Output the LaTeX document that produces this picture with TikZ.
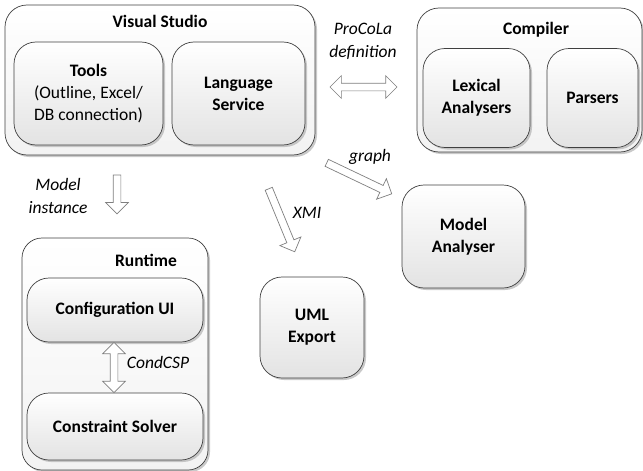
\documentclass[tikz,border=0pt]{standalone}
\usepackage{fontspec}
\setmainfont{Carlito}
\usetikzlibrary{shapes.arrows,shadows,calc}
\definecolor{edge}{HTML}{404040}
\definecolor{arr}{HTML}{7F7F7F}
\tikzset{
  box/.style={draw=edge, line width=0.7pt, rounded corners=22pt, top color=white, bottom color=black!11,
    drop shadow={shadow xshift=2pt, shadow yshift=-2pt, fill=black!30, opacity=0.7},
    align=center, font=\fontsize{17.5}{22}\selectfont\bfseries, inner sep=0pt},
  outer/.style={box, top color=white, bottom color=black!5},
  title/.style={font=\fontsize{17.5}{20}\selectfont\bfseries, inner sep=0pt},
  lbl/.style={font=\fontsize{17.5}{23}\selectfont\itshape, align=center, inner sep=0pt},
  fat/.style={single arrow, draw=arr, fill=white, line width=0.7pt, inner sep=3.5pt,
    single arrow head extend=7.5pt, single arrow tip angle=90},
  fatdouble/.style={double arrow, draw=arr, fill=white, line width=0.7pt, inner sep=3.5pt,
    double arrow head extend=7.5pt, double arrow tip angle=90},
}
\newcommand\fatarrow[3]{%
  \path let \p1=($(#3)-(#2)$), \n1={atan2(\y1,\x1)}, \n2={veclen(\x1,\y1)} in
    node[#1, minimum height=\n2, rotate=\n1] at ($(#2)!0.5!(#3)$) {};}
\begin{document}
\begin{tikzpicture}[x=1pt,y=-1pt]
\useasboundingbox (0,0) rectangle (643,471);
% Visual Studio
\node[outer, minimum width=310pt, minimum height=150pt] (vs) at (160,80) {};
\node[title] (vst) at (160,21) {Visual Studio};
\node[box, minimum width=149pt, minimum height=103pt] (tools) at (88.5,93.5)
  {Tools\\\mdseries (Outline, Excel/\\\mdseries DB connection)};
\node[box, minimum width=133pt, minimum height=103pt] (ls) at (238.5,93.5) {Language\\Service};
% Compiler
\node[outer, minimum width=225pt, minimum height=144pt] (comp) at (529.5,80) {};
\node[title] (compt) at (536,30) {Compiler};
\node[box, minimum width=107pt, minimum height=99pt] (lex) at (476.5,98) {Lexical\\Analysers};
\node[box, minimum width=91pt, minimum height=99pt] (pars) at (592.5,98) {Parsers};
% Runtime
\node[outer, minimum width=186pt, minimum height=232pt, rounded corners=20pt] (rt) at (115,354) {};
\node[title] (rtt) at (146,260) {Runtime};
\node[box, minimum width=176pt, minimum height=64pt] (cui) at (115,310) {Configuration UI};
\node[box, minimum width=176pt, minimum height=67pt] (cs) at (115,426.5) {Constraint Solver};
% standalone
\node[box, minimum width=123pt, minimum height=103pt] (ma) at (463.5,236.5) {Model\\Analyser};
\node[box, minimum width=104pt, minimum height=101pt] (uml) at (312,327.5) {UML\\Export};
% arrow end points
\coordinate (p1) at (330,87); \coordinate (p2) at (397,87);
\coordinate (m1) at (117,173); \coordinate (m2) at (117,212);
\coordinate (c1) at (cui.south -| 114,0); \coordinate (c2) at (cs.north -| 114,0);
\coordinate (g1) at (325,162); \coordinate (g2) at (390,193);
\coordinate (x1) at (268,187); \coordinate (x2) at (294,250);
\fatarrow{fatdouble}{p1}{p2}
\fatarrow{fat}{m1}{m2}
\fatarrow{fatdouble}{c1}{c2}
\fatarrow{fat}{g1}{g2}
\fatarrow{fat}{x1}{x2}
% labels
\node[lbl] (lp) at (363,41) {ProCoLa\\definition};
\node[lbl] (lm) at (58,195.5) {Model\\instance};
\node[lbl] (lc) at (158,362) {CondCSP};
\node[lbl] (lg) at (370,157) {graph};
\node[lbl] (lx) at (307,213) {XMI};
\end{tikzpicture}
\end{document}
